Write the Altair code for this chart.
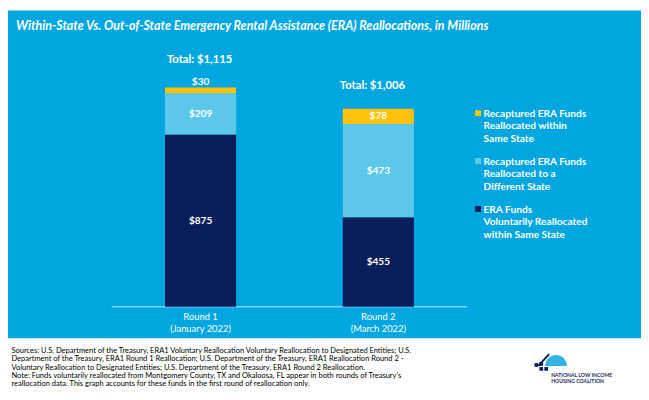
import altair as alt
import pandas as pd

# ---------------- data ----------------
rounds = ["Round 1", "Round 2"]
round_dates = ["(January 2022)", "(March 2022)"]
segments = [
    "ERA Funds Voluntarily Reallocated within Same State",
    "Recaptured ERA Funds Reallocated to a Different State",
    "Recaptured ERA Funds Reallocated within Same State",
]
seg_colors = ["#0A1E5A", "#5BC8EA", "#FFC20E"]
voluntary_same_state = [875, 455]
recaptured_diff_state = [209, 473]
recaptured_same_state = [30, 78]
totals = [1115, 1006]

legend_lines = [
    ["Recaptured ERA Funds", "Reallocated within", "Same State"],
    ["Recaptured ERA Funds", "Reallocated to a", "Different State"],
    ["ERA Funds", "Voluntarily Reallocated", "within Same State"],
]
legend_colors = ["#FFC20E", "#5BC8EA", "#0A1E5A"]

title_text = "Within-State Vs. Out-of-State Emergency Rental Assistance (ERA) Reallocations, in Millions"
footer_lines = [
    "Sources: U.S. Department of the Treasury, ERA1 Voluntary Reallocation Voluntary Reallocation to Designated Entities; U.S.",
    "Department of the Treasury, ERA1 Round 1 Reallocation; U.S. Department of the Treasury, ERA1 Reallocation Round 2 -",
    "Voluntary Reallocation to Designated Entities; U.S. Department of the Treasury, ERA1 Round 2 Reallocation.",
    "Note: Funds voluntarily reallocated from Montgomery County, TX and Okaloosa, FL appear in both rounds of Treasury's",
    "reallocation data. This graph accounts for these funds in the first round of reallocation only.",
]

BG = "#00A6E0"
W, H = 641, 392
FONT = "Lato"

rows = []
for i, r in enumerate(rounds):
    for k, vals in enumerate([voluntary_same_state, recaptured_diff_state, recaptured_same_state]):
        rows.append({"round": r, "segment": segments[k], "ord": k, "value": vals[i]})
df = pd.DataFrame(rows)
df_rounds = pd.DataFrame({"round": rounds, "date": round_dates, "total": totals})
one = pd.DataFrame({"a": [0]})

xscale = alt.Scale(domain=rounds, range=[105, 465], paddingInner=0, paddingOuter=0)
yscale = alt.Scale(domain=[0, 1000], range=[300, 100.7])
X = alt.X("round:N", scale=xscale, axis=None)

background = alt.Chart(one).mark_rect(color=BG).encode(
    x=alt.value(0), x2=alt.value(W), y=alt.value(0), y2=alt.value(332)
)

bars = alt.Chart(df).mark_bar(size=72).encode(
    x=X,
    y=alt.Y("value:Q", stack="zero", scale=yscale, axis=None),
    color=alt.Color("segment:N", scale=alt.Scale(domain=segments, range=seg_colors), legend=None),
    order=alt.Order("ord:Q", sort="ascending"),
)

seg_labels = (
    alt.Chart(df)
    .transform_stack(stack="value", as_=["y0", "y1"], groupby=["round"],
                     sort=[alt.SortField("ord", order="ascending")])
    .transform_calculate(
        ypos="datum.value < 50 ? datum.y1 + 27 : (datum.y0 + datum.y1) / 2",
        lbl="'$' + datum.value",
    )
    .mark_text(font=FONT, fontSize=10.2, fontWeight="bold", color="white", baseline="middle")
    .encode(x=X, y=alt.Y("ypos:Q", scale=yscale, axis=None), text="lbl:N")
)

def total_layer(r, dy, dx):
    return (
        alt.Chart(df_rounds)
        .transform_filter(alt.datum["round"] == r)
        .transform_calculate(lbl="'Total: $' + format(datum.total, ',')")
        .mark_text(font=FONT, fontSize=11.4, fontWeight="bold", color="white",
                   baseline="middle", dy=dy, dx=dx)
        .encode(x=X, y=alt.Y("total:Q", scale=yscale, axis=None), text="lbl:N")
    )

totals_layers = [total_layer(rounds[0], -28, -1), total_layer(rounds[1], -23, -6)]

x_labels = (
    alt.Chart(df_rounds)
    .transform_calculate(lbl="datum.round + '\\n' + datum.date")
    .mark_text(font=FONT, fontSize=9.5, color="white", baseline="alphabetic",
               lineBreak="\n", lineHeight=12)
    .encode(x=X, y=alt.value(313.5), text="lbl:N")
)

axis_line = alt.Chart(one).mark_rule(color="#7DD2F2", strokeWidth=1.5).encode(
    x=alt.value(105), x2=alt.value(465), y=alt.value(300)
)

title = alt.Chart(one).mark_text(
    text=title_text, font=FONT, fontSize=12.6, fontStyle="italic",
    fontWeight="bold", color="white", align="left", baseline="alphabetic"
).encode(x=alt.value(8), y=alt.value(19.5))

legend_layers = []
for i, (lines, col) in enumerate(zip(legend_lines, legend_colors)):
    yc = 104 + i * 48.5
    legend_layers.append(
        alt.Chart(one).mark_square(size=36, color=col, opacity=1).encode(
            x=alt.value(476), y=alt.value(yc)
        )
    )
    legend_layers.append(
        alt.Chart(one).mark_text(
            text="\n".join(lines), lineBreak="\n", lineHeight=12.7, font=FONT, fontSize=10.3,
            fontWeight="bold", color="white", align="left", baseline="alphabetic"
        ).encode(x=alt.value(481.5), y=alt.value(yc + 3.7))
    )

footer = alt.Chart(one).mark_text(
    text="\n".join(footer_lines), lineBreak="\n", lineHeight=8.3, font=FONT, fontSize=7.6,
    color="#000000", align="left", baseline="alphabetic"
).encode(x=alt.value(3.5), y=alt.value(347))

# logo (decorative)
logo = [
    alt.Chart(one).mark_arc(color="#33B2E6", theta=4.71, theta2=7.85, outerRadius=11).encode(
        x=alt.value(555), y=alt.value(360)
    ),
    alt.Chart(one).mark_rule(color="#0A1E5A", strokeWidth=2).encode(
        x=alt.value(537), x2=alt.value(548), y=alt.value(360), y2=alt.value(348)
    ),
    alt.Chart(one).mark_square(size=14, color="#0A1E5A", opacity=1).encode(x=alt.value(535), y=alt.value(359)),
    alt.Chart(one).mark_square(size=14, color="#0A1E5A", opacity=1).encode(x=alt.value(540), y=alt.value(363)),
    alt.Chart(one).mark_square(size=14, color="#0A1E5A", opacity=1).encode(x=alt.value(545), y=alt.value(363)),
    alt.Chart(one).mark_square(size=14, color="#0A1E5A", opacity=1).encode(x=alt.value(540), y=alt.value(358)),
    alt.Chart(one).mark_text(
        text="NATIONAL LOW INCOME\nHOUSING COALITION", lineBreak="\n", lineHeight=6.5, font=FONT,
        fontSize=5.2, fontWeight="bold", color="#1B2A5C", align="left", baseline="middle"
    ).encode(x=alt.value(550), y=alt.value(369)),
]

chart = alt.layer(
    background, axis_line, bars, seg_labels, *totals_layers, x_labels, title,
    *legend_layers, footer, *logo
).properties(
    width=W, height=H, background="white", padding=0,
    autosize=alt.AutoSizeParams(type="none"),
).configure_view(stroke=None)

chart.save("out.html", embed_options={"renderer": "svg", "actions": False})
